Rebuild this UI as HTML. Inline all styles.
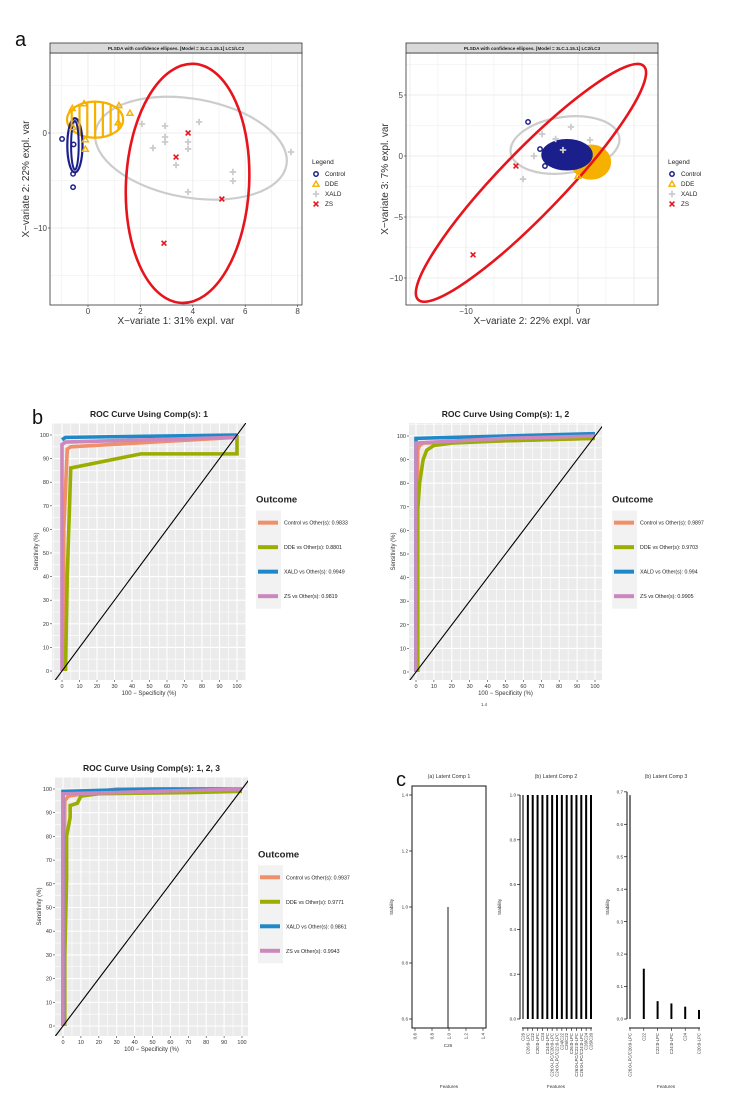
<!DOCTYPE html>
<html><head><meta charset="utf-8"><style>
html,body{margin:0;padding:0;background:#fff;}
svg{display:block;font-family:"Liberation Sans",Arial,sans-serif;}
</style></head><body>
<svg id="fig" width="744" height="1108" viewBox="0 0 744 1108"></svg>
<script>
// ---------- DATA ----------
const aLeftControl = [[-0.99,-0.63],[-0.57,-4.3],[-0.57,-5.7],[-0.55,-1.2]];
const aLeftDDE = [[-0.6,2.6],[-0.15,3.1],[1.18,2.9],[1.6,2.1],[1.15,1.1],[-0.1,-0.7],[-0.1,-1.7],[-0.57,0.6]];
const aLeftXALD = [[2.06,0.95],[2.94,0.74],[2.94,-0.42],[2.94,-0.95],[2.48,-1.58],[3.82,-0.95],[3.82,-1.68],[4.24,1.16],[3.36,-3.37],[3.82,-6.2],[5.53,-4.1],[5.53,-5.05],[7.75,-2.0]];
const aLeftZS = [[3.82,0],[3.36,-2.53],[5.11,-6.95],[2.9,-11.6]];
const aLeftEllRed = [3.8,-5.3,2.35,12.6,3];
const aLeftEllGrey = [3.93,-1.6,3.7,5.2,10];
const aLeftEllBlue = [-0.5,-1.3,0.29,2.85,0];
const aLeftEllYellow = [0.27,1.4,1.07,1.9,0];
const aLeftXTicks = [0,2,4,6,8];
const aLeftYTicks = [0,-10];
const aRightControl = [[-4.46,2.79],[-3.39,0.57],[-2.95,-0.82]];
const aRightDDE = [[0,-1.64]];
const aRightXALD = [[-3.21,1.8],[-0.63,2.38],[1.07,1.31],[-3.93,0],[-4.91,-1.89],[-1.34,0.49],[-2.0,1.4]];
const aRightZS = [[-5.54,-0.82],[-9.37,-8.1]];
const aRightEllRed = [-4.2,-2.2,14.5,2.6,-46];
const aRightEllGrey = [-1.16,0.9,4.9,2.3,-8];
const aRightEllBlue = [-0.98,0.1,2.2,1.2,0];
const aRightEllYellow = [1.16,-0.5,1.7,1.35,0];
const aRightXTicks = [-10,0];
const aRightYTicks = [5,0,-5,-10];
const rocLabels1 = ["Control vs Other(s): 0.9833","DDE vs Other(s): 0.8801","XALD vs Other(s): 0.9949","ZS vs Other(s): 0.9819"];
const roc1Control = [[1,0],[1,60],[3,94],[5,95],[100,99]];
const roc1DDE = [[2,0],[3,40],[5,86],[45,92],[100,92],[100,100]];
const roc1XALD = [[0,98],[2,99],[100,100]];
const roc1ZS = [[0,0],[0,96],[2,97],[100,99]];
const rocLabels2 = ["Control vs Other(s): 0.9897","DDE vs Other(s): 0.9703","XALD vs Other(s): 0.994","ZS vs Other(s): 0.9905"];
const roc2Control = [[0,0],[1,94],[2,96],[4,97],[100,99]];
const roc2DDE = [[1,0],[1,25],[1,69],[2,80],[3,85],[4,90],[6,94],[10,96],[20,97],[50,98],[100,99]];
const roc2XALD = [[0,0],[0,99],[50,100],[100,101]];
const roc2ZS = [[0,0],[0,97],[50,99],[100,100]];
const rocLabels3 = ["Control vs Other(s): 0.9937","DDE vs Other(s): 0.9771","XALD vs Other(s): 0.9861","ZS vs Other(s): 0.9943"];
const roc3Control = [[0,0],[1,95],[3,97],[20,99],[30,100],[100,100]];
const roc3DDE = [[1,0],[1,29],[2,62],[2,80],[4,88],[4,93],[8,94],[10,97],[20,98],[70,98.5],[100,99]];
const roc3XALD = [[0,0],[0,99],[50,100],[100,100]];
const roc3ZS = [[0,0],[0,98],[30,98.5],[50,99],[100,100]];
const rocTicks = [0,10,20,30,40,50,60,70,80,90,100];
const c1Features = ["C26"];
const c1Values = [1.0];
const c1YTicks = [0.6,0.8,1.0,1.2,1.4];
const c2Features = ["C26","C26:0-LPC","C22","C20:0-LPC","C24","C24:0-LPC","C26:0-LPC/C20:0-LPC","C24:0-LPC/C22:0-LPC","C24/C22","C26/C22","C26:0-LPC","C26:0-LPC/C22:0-LPC","C26:0-LPC/C24:0-LPC","C26/C24","C26/C20"];
const c2Values = [1,1,1,1,1,1,1,1,1,1,1,1,1,1,1];
const c2YTicks = [0.0,0.2,0.4,0.6,0.8,1.0];
const c3Features = ["C26:0-LPC/C20:0-LPC","C22","C22:0-LPC","C24:0-LPC","C24","C20:0-LPC"];
const c3Values = [0.69,0.155,0.055,0.048,0.038,0.028];
const c3YTicks = [0.0,0.1,0.2,0.3,0.4,0.5,0.6,0.7];

// ---------- HELPERS ----------
const NS="http://www.w3.org/2000/svg";
const svg=document.getElementById('fig');
function el(tag,attrs,name,parent){
  const e=document.createElementNS(NS,tag);
  for(const k in attrs) e.setAttribute(k,attrs[k]);
  
  
  (parent||svg).appendChild(e);
  return e;
}
function txt(x,y,s,size,name,opts){
  opts=opts||{};
  const a={x:x,y:y,'font-size':size,fill:opts.fill||'#222','text-anchor':opts.anchor||'middle'};
  if(opts.weight)a['font-weight']=opts.weight;
  if(opts.rot!==undefined)a.transform='rotate('+opts.rot+' '+x+' '+y+')';
  const t=el('text',a,name,opts.parent);
  t.textContent=s;
  return t;
}
function circleMark(g,x,y,c){el('circle',{cx:x,cy:y,r:2.2,fill:'none',stroke:c,'stroke-width':1.5},'control-point',g);}
function triMark(g,x,y,c){el('polygon',{points:(x)+','+(y-3)+' '+(x-3)+','+(y+2.2)+' '+(x+3)+','+(y+2.2),fill:'none',stroke:c,'stroke-width':1.4},'dde-point',g);}
function plusMark(g,x,y,c){el('path',{d:'M'+(x-3.2)+' '+y+'H'+(x+3.2)+'M'+x+' '+(y-3.2)+'V'+(y+3.2),stroke:c,'stroke-width':1.8},'xald-point',g);}
function crossMark(g,x,y,c){el('path',{d:'M'+(x-2.4)+' '+(y-2.4)+'L'+(x+2.4)+' '+(y+2.4)+'M'+(x+2.4)+' '+(y-2.4)+'L'+(x-2.4)+' '+(y+2.4),stroke:c,'stroke-width':1.6},'zs-point',g);}

// ---------- PANEL A ----------
function scatter(cfg){
  const g=el('g',{},cfg.name);
  const xs=v=>cfg.x0+v*cfg.kx, ys=v=>cfg.y0-v*cfg.ky;
  el('rect',{x:cfg.L,y:cfg.T,width:cfg.R-cfg.L,height:cfg.B-cfg.T,fill:'#fff'},'plot-background',g);
  const clipId='clip'+cfg.name;
  const cp=el('clipPath',{id:clipId},'clip',g);
  el('rect',{x:cfg.L,y:cfg.T,width:cfg.R-cfg.L,height:cfg.B-cfg.T},'clip-rect',cp);
  const pg=el('g',{'clip-path':'url(#'+clipId+')'},'plot-marks',g);
  for(let v=cfg.xmin;v<=cfg.xmax;v+=cfg.xstep/2){
    const isMajor=Math.abs(v/cfg.xstep-Math.round(v/cfg.xstep))<1e-6;
    el('line',{x1:xs(v),x2:xs(v),y1:cfg.T,y2:cfg.B,stroke:'#ececec','stroke-width':isMajor?0.9:0.5},'grid-x',pg);
  }
  for(let v=cfg.ymin;v<=cfg.ymax;v+=cfg.ystep/2){
    const isMajor=Math.abs(v/cfg.ystep-Math.round(v/cfg.ystep))<1e-6;
    el('line',{x1:cfg.L,x2:cfg.R,y1:ys(v),y2:ys(v),stroke:'#ececec','stroke-width':isMajor?0.9:0.5},'grid-y',pg);
  }
  function ell(p,color,fill,sw,name){
    const cx=xs(p[0]),cy=ys(p[1]);
    return el('ellipse',{cx:cx,cy:cy,rx:p[2]*cfg.kx,ry:p[3]*cfg.ky,fill:fill,stroke:color,'stroke-width':sw,transform:'rotate('+p[4]+' '+cx+' '+cy+')'},name,pg);
  }
  ell(cfg.ellGrey,'#cccccc','none',2.2,'xald-ellipse');
  ell(cfg.ellYellow,'#f5b000',cfg.fillBlobs?'#f5b000':'none',2.2,'dde-ellipse');
  ell(cfg.ellBlue,'#1a1f8c',cfg.fillBlobs?'#1a1f8c':'none',2.2,'control-ellipse');
  if(!cfg.fillBlobs){
    const pY=cfg.ellYellow;
    for(let i=-3;i<=3;i++){
      const x=xs(pY[0])+i*pY[2]*cfg.kx/3.6;
      const h=pY[3]*cfg.ky*Math.sqrt(Math.max(0,1-(i/3.6)*(i/3.6)));
      el('line',{x1:x,x2:x,y1:ys(pY[1])-h,y2:ys(pY[1])+h,stroke:'#f5b000','stroke-width':2.2},'dde-stripe',pg);
    }
    const pB=cfg.ellBlue;
    el('ellipse',{cx:xs(pB[0]),cy:ys(pB[1]),rx:pB[2]*cfg.kx*0.5,ry:pB[3]*cfg.ky*0.9,fill:'none',stroke:'#1a1f8c','stroke-width':2},'control-inner-ellipse',pg);
  }
  ell(cfg.ellRed,'#e8141c','none',2.6,'zs-ellipse');
  cfg.control.forEach(p=>circleMark(pg,xs(p[0]),ys(p[1]),'#1a1f8c'));
  cfg.dde.forEach(p=>triMark(pg,xs(p[0]),ys(p[1]),'#f5b000'));
  cfg.xald.forEach(p=>plusMark(pg,xs(p[0]),ys(p[1]),'#cccccc'));
  cfg.zs.forEach(p=>crossMark(pg,xs(p[0]),ys(p[1]),'#e8141c'));
  el('rect',{x:cfg.L,y:cfg.T,width:cfg.R-cfg.L,height:cfg.B-cfg.T,fill:'none',stroke:'#333','stroke-width':0.8},'panel-border',g);
  el('rect',{x:cfg.L,y:cfg.T-10,width:cfg.R-cfg.L,height:10,fill:'#d9d9d9',stroke:'#333','stroke-width':0.8},'strip',g);
  txt((cfg.L+cfg.R)/2,cfg.T-3,cfg.title,4.6,'strip-title',{parent:g,weight:'bold'});
  cfg.xticks.forEach(v=>{
    el('line',{x1:xs(v),x2:xs(v),y1:cfg.B,y2:cfg.B+2,stroke:'#333','stroke-width':0.6},'x-tick',g);
    txt(xs(v),cfg.B+9,String(v).replace('-','−'),8,'x-tick-label',{parent:g,fill:'#444'});
  });
  cfg.yticks.forEach(v=>{
    el('line',{x1:cfg.L-2,x2:cfg.L,y1:ys(v),y2:ys(v),stroke:'#333','stroke-width':0.6},'y-tick',g);
    txt(cfg.L-3,ys(v)+3,String(v).replace('-','−'),8,'y-tick-label',{parent:g,fill:'#444',anchor:'end'});
  });
  txt((cfg.L+cfg.R)/2,cfg.B+19,cfg.xlabel,10,'x-axis-title',{parent:g,fill:'#333'});
  txt(cfg.ylx,(cfg.T+cfg.B)/2,cfg.ylabel,10,'y-axis-title',{parent:g,fill:'#333',rot:-90});
  const lx=cfg.R+10, ly=164;
  txt(lx,ly,'Legend',6.5,'legend-title',{parent:g,anchor:'start'});
  const names=['Control','DDE','XALD','ZS'];
  const fns=[circleMark,triMark,plusMark,crossMark];
  const cols=['#1a1f8c','#f5b000','#cccccc','#e8141c'];
  names.forEach((n,i)=>{
    const y=ly+10+i*10;
    fns[i](g,lx+4,y,cols[i]);
    txt(lx+13,y+2.2,n,6.3,'legend-entry',{parent:g,anchor:'start'});
  });
}
txt(15,46,'a',20,'panel-label-a',{anchor:'start',fill:'#111'});
scatter({name:'plsda-lc1-lc2',L:50,T:53,R:302,B:305,x0:88,kx:26.2,y0:133,ky:9.5,xmin:-1,xmax:9,xstep:2,ymin:-20,ymax:10,ystep:10,
  ellRed:aLeftEllRed,ellGrey:aLeftEllGrey,ellBlue:aLeftEllBlue,ellYellow:aLeftEllYellow,fillBlobs:false,
  control:aLeftControl,dde:aLeftDDE,xald:aLeftXALD,zs:aLeftZS,xticks:aLeftXTicks,yticks:aLeftYTicks,
  title:'PLSDA with confidence ellipses. [Model = 3LC.1.15.1] LC1/LC2',xlabel:'X−variate 1: 31% expl. var',ylabel:'X−variate 2: 22% expl. var',ylx:29});
scatter({name:'plsda-lc2-lc3',L:406,T:53,R:658,B:305,x0:578,kx:11.2,y0:156,ky:12.2,xmin:-15,xmax:10,xstep:5,ymin:-15,ymax:10,ystep:5,
  ellRed:aRightEllRed,ellGrey:aRightEllGrey,ellBlue:aRightEllBlue,ellYellow:aRightEllYellow,fillBlobs:true,
  control:aRightControl,dde:aRightDDE,xald:aRightXALD,zs:aRightZS,xticks:aRightXTicks,yticks:aRightYTicks,
  title:'PLSDA with confidence ellipses. [Model = 3LC.1.15.1] LC2/LC3',xlabel:'X−variate 2: 22% expl. var',ylabel:'X−variate 3: 7% expl. var',ylx:388});

// ---------- PANEL B ----------
const rocColors=['#f0906a','#9bad00','#1e88c8','#cc88bd'];
function roc(cfg){
  const g=el('g',{},cfg.name);
  const xs=v=>cfg.x0+v*(cfg.x100-cfg.x0)/100, ys=v=>cfg.y0-v*(cfg.y0-cfg.y100)/100;
  el('rect',{x:cfg.L,y:cfg.T,width:cfg.R-cfg.L,height:cfg.B-cfg.T,fill:'#ebebeb'},'plot-background',g);
  for(let v=-5;v<=105;v+=5){
    const maj=v%10===0;
    if(xs(v)>=cfg.L&&xs(v)<=cfg.R) el('line',{x1:xs(v),x2:xs(v),y1:cfg.T,y2:cfg.B,stroke:'#fff','stroke-width':maj?1.1:0.6},'grid-x',g);
    if(ys(v)>=cfg.T&&ys(v)<=cfg.B) el('line',{x1:cfg.L,x2:cfg.R,y1:ys(v),y2:ys(v),stroke:'#fff','stroke-width':maj?1.1:0.6},'grid-y',g);
  }
  const clipId='clip'+cfg.name;
  const cp=el('clipPath',{id:clipId},'clip',g);
  el('rect',{x:cfg.L,y:cfg.T,width:cfg.R-cfg.L,height:cfg.B-cfg.T},'clip-rect',cp);
  const pg=el('g',{'clip-path':'url(#'+clipId+')'},'plot-marks',g);
  const names=['control-curve','dde-curve','xald-curve','zs-curve'];
  cfg.series.forEach((s,i)=>{
    el('polyline',{points:s.map(p=>xs(p[0])+','+ys(p[1])).join(' '),fill:'none',stroke:rocColors[i],'stroke-width':3.6,'stroke-linejoin':'miter'},names[i],pg);
  });
  el('line',{x1:xs(-10),y1:ys(-10),x2:xs(110),y2:ys(110),stroke:'#000','stroke-width':1.1},'reference-diagonal',pg);
  rocTicks.forEach(v=>{
    el('line',{x1:cfg.L-2,x2:cfg.L,y1:ys(v),y2:ys(v),stroke:'#333','stroke-width':0.6},'y-tick',g);
    txt(cfg.L-3,ys(v)+2,String(v),5.5,'y-tick-label',{parent:g,anchor:'end',fill:'#333'});
    el('line',{x1:xs(v),x2:xs(v),y1:cfg.B,y2:cfg.B+2,stroke:'#333','stroke-width':0.6},'x-tick',g);
    txt(xs(v),cfg.B+8,String(v),5.5,'x-tick-label',{parent:g,fill:'#333'});
  });
  txt((cfg.L+cfg.R)/2,cfg.B+15,'100 − Specificity (%)',6,'x-axis-title',{parent:g,fill:'#333'});
  txt(cfg.L-14,(cfg.T+cfg.B)/2,'Sensitivity (%)',6,'y-axis-title',{parent:g,fill:'#333',rot:-90});
  txt((cfg.L+cfg.R)/2,cfg.T-6,cfg.title,8.5,'roc-title',{parent:g,weight:'bold',fill:'#222'});
  const lx=cfg.R+10, ly=cfg.T+(cfg.B-cfg.T)*0.31;
  txt(lx,ly,'Outcome',9.5,'legend-title',{parent:g,anchor:'start',weight:'bold',fill:'#222'});
  el('rect',{x:lx,y:ly+8,width:25,height:98,fill:'#f2f2f2'},'legend-key-background',g);
  cfg.labels.forEach((l,i)=>{
    const y=ly+20+i*24.5;
    el('rect',{x:lx+2,y:y-2,width:20,height:4,fill:rocColors[i]},'legend-swatch',g);
    txt(lx+28,y+2,l,5.3,'legend-entry',{parent:g,anchor:'start',fill:'#222'});
  });
}
txt(32,424,'b',20,'panel-label-b',{anchor:'start',fill:'#111'});
roc({name:'roc-comp1',L:52,T:423,R:246,B:680,x0:62,x100:237,y0:671,y100:435,series:[roc1Control,roc1DDE,roc1XALD,roc1ZS],labels:rocLabels1,title:'ROC Curve Using Comp(s): 1'});
roc({name:'roc-comp12',L:409,T:423,R:602,B:680,x0:416,x100:595,y0:672,y100:436,series:[roc2Control,roc2DDE,roc2XALD,roc2ZS],labels:rocLabels2,title:'ROC Curve Using Comp(s): 1, 2'});
txt(484,706,'1.4',4.5,'stray-label',{fill:'#444'});
roc({name:'roc-comp123',L:55,T:777,R:248,B:1036,x0:63,x100:242,y0:1026,y100:789,series:[roc3Control,roc3DDE,roc3XALD,roc3ZS],labels:rocLabels3,title:'ROC Curve Using Comp(s): 1, 2, 3'});

// ---------- PANEL C ----------
txt(396,786,'c',20,'panel-label-c',{anchor:'start',fill:'#111'});
function stab(cfg){
  const g=el('g',{},cfg.name);
  const ys=v=>cfg.yBase-(v-cfg.yMin)*cfg.ky;
  txt(cfg.cx,778,cfg.title,5.3,'subplot-title',{parent:g,fill:'#333'});
  el('line',{x1:cfg.axX,x2:cfg.axX,y1:ys(cfg.yticks[cfg.yticks.length-1]),y2:ys(cfg.yMin),stroke:'#111','stroke-width':1},'y-axis-line',g);
  cfg.yticks.forEach(v=>{
    el('line',{x1:cfg.axX-3,x2:cfg.axX,y1:ys(v),y2:ys(v),stroke:'#111','stroke-width':0.7},'y-tick',g);
    txt(cfg.axX-4,ys(v)+1.6,v.toFixed(1),4.6,'y-tick-label',{parent:g,anchor:'end',fill:'#333'});
  });
  el('line',{x1:cfg.x1,x2:cfg.x2,y1:1028,y2:1028,stroke:'#111','stroke-width':1},'x-axis-line',g);
  const n=cfg.features.length;
  const step=n>1?(cfg.x2-cfg.x1-2)/(n-1):0;
  cfg.features.forEach((f,i)=>{
    const x=n>1?cfg.x1+1+i*step:cfg.barX;
    el('line',{x1:x,x2:x,y1:ys(cfg.values[i]),y2:cfg.barBottom,stroke:i===0&&n>1?'#777':'#000','stroke-width':cfg.bw},'stability-bar',g);
    if(cfg.rotLabels){
      el('line',{x1:x,x2:x,y1:1028,y2:1031,stroke:'#111','stroke-width':0.6},'x-tick',g);
      txt(x+1.5,1033,f,4.3,'x-tick-label',{parent:g,anchor:'end',rot:-90,fill:'#333'});
    }
  });
  if(cfg.numTicks){
    cfg.numTicks.forEach((v,i)=>{
      const x=cfg.x1+3+i*(cfg.x2-cfg.x1-6)/(cfg.numTicks.length-1);
      el('line',{x1:x,x2:x,y1:1028,y2:1031,stroke:'#111','stroke-width':0.6},'x-tick',g);
      txt(x+1.5,1033,v.toFixed(1),4.6,'x-tick-label',{parent:g,anchor:'end',rot:-90,fill:'#333'});
    });
    txt(cfg.barX,1047,cfg.features[0],4.6,'x-category-label',{parent:g,fill:'#333'});
  }
  if(cfg.box) el('rect',{x:cfg.x1,y:cfg.boxTop,width:cfg.x2-cfg.x1,height:1028-cfg.boxTop,fill:'none',stroke:'#111','stroke-width':1},'plot-box',g);
  txt(cfg.cx,1088,'Features',4.6,'x-axis-title',{parent:g,fill:'#333'});
  txt(cfg.slx,907,'Stability',4.6,'y-axis-title',{parent:g,fill:'#333',rot:-90});
}
stab({name:'stability-comp1',title:'(a) Latent Comp 1',cx:449,axX:412,x1:412,x2:486,yBase:1019,yMin:0.6,ky:280,yticks:c1YTicks,features:c1Features,values:c1Values,barX:448,barBottom:1028,bw:0.9,rotLabels:false,numTicks:[0.6,0.8,1.0,1.2,1.4],box:true,boxTop:786,slx:393});
stab({name:'stability-comp2',title:'(b) Latent Comp 2',cx:556,axX:520,x1:522,x2:592,yBase:1019,yMin:0,ky:224,yticks:c2YTicks,features:c2Features,values:c2Values,barBottom:1019,bw:2,rotLabels:true,slx:501});
stab({name:'stability-comp3',title:'(b) Latent Comp 3',cx:666,axX:627,x1:629,x2:700,yBase:1019,yMin:0,ky:324.5,yticks:c3YTicks,features:c3Features,values:c3Values,barBottom:1019,bw:2,rotLabels:true,slx:609});
</script>
</body></html>
